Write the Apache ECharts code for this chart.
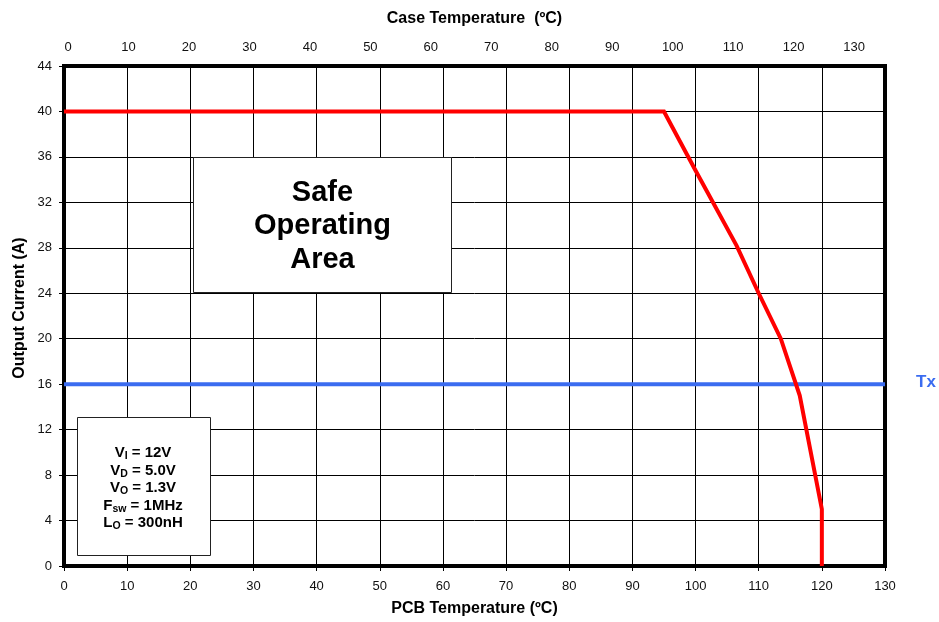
<!DOCTYPE html>
<html>
<head>
<meta charset="utf-8">
<title>Safe Operating Area</title>
<script src="https://cdn.jsdelivr.net/npm/echarts@6/dist/echarts.min.js"></script>
<style>
  html, body { margin: 0; padding: 0; background: #fff; }
  #chart { width: 939px; height: 622px; }
</style>
</head>
<body>
<div id="chart"></div>
<script>
// PCB temperature (°C) vs. maximum output current (A) — derating curve
const pcbTemp  = [0, 95, 100, 106.5, 110, 113.5, 116.5, 120, 120];
const currentA = [40, 40, 34.8, 28.2, 24, 20, 15, 5, 0];

// Horizontal Tx reference level
const txTemp    = [0, 130];
const txCurrent = [16, 16];

// Axis ticks
const pcbTicks     = [0, 10, 20, 30, 40, 50, 60, 70, 80, 90, 100, 110, 120, 130];
const caseTicks    = [0, 10, 20, 30, 40, 50, 60, 70, 80, 90, 100, 110, 120, 130];
const currentTicks = [0, 4, 8, 12, 16, 20, 24, 28, 32, 36, 40, 44];

// Case temperature scale spans slightly more than the PCB scale
const caseMin = -0.66;
const caseMax = 135.1;

// Operating conditions box, [main, subscript, rest]
const conditions = [
  ['V', 'I', ' = 12V'],
  ['V', 'D', ' = 5.0V'],
  ['V', 'O', ' = 1.3V'],
  ['F', 'sw', ' = 1MHz'],
  ['L', 'O', ' = 300nH']
];

const FONT = '"Liberation Sans", Arial, Helvetica, sans-serif';

const chart = echarts.init(document.getElementById('chart'), null, { renderer: 'canvas' });

const condText = conditions.map(c => `{m|${c[0]}}{s|${c[1]}}{m|${c[2]}}`).join('\n');

const option = {
  animation: false,
  backgroundColor: '#fff',
  grid: {
    left: 64, right: 54, top: 66, bottom: 56,
    show: true,
    backgroundColor: '#fff',
    borderColor: '#000',
    borderWidth: 4,
    outerBoundsMode: 'none'
  },
  xAxis: [
    {
      type: 'value',
      position: 'bottom',
      min: pcbTicks[0],
      max: pcbTicks[pcbTicks.length - 1],
      interval: 10,
      name: 'PCB Temperature (ºC)',
      nameLocation: 'middle',
      nameGap: 35,
      nameTextStyle: { fontFamily: FONT, fontSize: 16, fontWeight: 'bold', color: '#000' },
      axisLine: { show: false },
      axisTick: { show: true, length: 5, lineStyle: { color: '#000', width: 1 } },
      axisLabel: { fontFamily: FONT, fontSize: 13, color: '#111', margin: 14 },
      splitLine: { show: true, lineStyle: { color: '#000', width: 1 } }
    },
    {
      type: 'value',
      position: 'top',
      min: caseMin,
      max: caseMax,
      name: 'Case Temperature  (ºC)',
      nameLocation: 'middle',
      nameGap: 39,
      nameTextStyle: { fontFamily: FONT, fontSize: 16, fontWeight: 'bold', color: '#000' },
      axisLine: { show: false },
      axisTick: { show: false },
      axisLabel: {
        customValues: caseTicks,
        fontFamily: FONT, fontSize: 13, color: '#111', margin: 12
      },
      splitLine: { show: false }
    }
  ],
  yAxis: {
    type: 'value',
    min: currentTicks[0],
    max: currentTicks[currentTicks.length - 1],
    interval: 4,
    axisLine: { show: false },
    axisTick: { show: true, length: 5, lineStyle: { color: '#000', width: 1 } },
    axisLabel: { fontFamily: FONT, fontSize: 13, color: '#111', margin: 12 },
    splitLine: { show: true, lineStyle: { color: '#000', width: 1 } }
  },
  series: [
    {
      name: 'Tx',
      type: 'line',
      xAxisIndex: 0,
      data: txTemp.map((t, i) => [t, txCurrent[i]]),
      symbol: 'none',
      lineStyle: { color: '#3b6cf0', width: 4 },
      z: 3
    },
    {
      name: 'Output Current',
      type: 'line',
      xAxisIndex: 0,
      data: pcbTemp.map((t, i) => [t, currentA[i]]),
      symbol: 'none',
      lineStyle: { color: '#ff0000', width: 4, join: 'miter' },
      z: 4
    }
  ],
  graphic: [
    {
      type: 'text',
      z: 20,
      x: 20, y: 308,
      rotation: Math.PI / 2,
      style: {
        text: 'Output Current (A)',
        font: `bold 16px ${FONT}`,
        fill: '#000',
        align: 'center',
        verticalAlign: 'middle'
      }
    },
    {
      type: 'text',
      z: 20,
      x: 926, y: 382,
      style: {
        text: 'Tx',
        font: `bold 17px ${FONT}`,
        fill: '#3b6cf0',
        align: 'center',
        verticalAlign: 'middle'
      }
    },
    {
      type: 'rect',
      z: 20,
      shape: { x: 193.5, y: 157.5, width: 258, height: 135 },
      style: { fill: '#fff', stroke: '#222', lineWidth: 1 }
    },
    {
      type: 'text',
      z: 21,
      x: 322.5, y: 226,
      style: {
        text: 'Safe\nOperating\nArea',
        font: `bold 29px ${FONT}`,
        lineHeight: 33.5,
        fill: '#000',
        align: 'center',
        verticalAlign: 'middle'
      }
    },
    {
      type: 'rect',
      z: 20,
      shape: { x: 77.5, y: 417.5, width: 133, height: 138 },
      style: { fill: '#fff', stroke: '#222', lineWidth: 1 }
    },
    {
      type: 'text',
      z: 21,
      x: 143, y: 488,
      style: {
        text: condText,
        align: 'center',
        verticalAlign: 'middle',
        fill: '#000',
        rich: {
          m: { fontFamily: FONT, fontSize: 15, fontWeight: 'bold', lineHeight: 17.5, fill: '#000' },
          s: { fontFamily: FONT, fontSize: 10.5, fontWeight: 'bold', lineHeight: 8, verticalAlign: 'bottom', fill: '#000' }
        }
      }
    }
  ]
};

chart.setOption(option);
</script>
</body>
</html>
